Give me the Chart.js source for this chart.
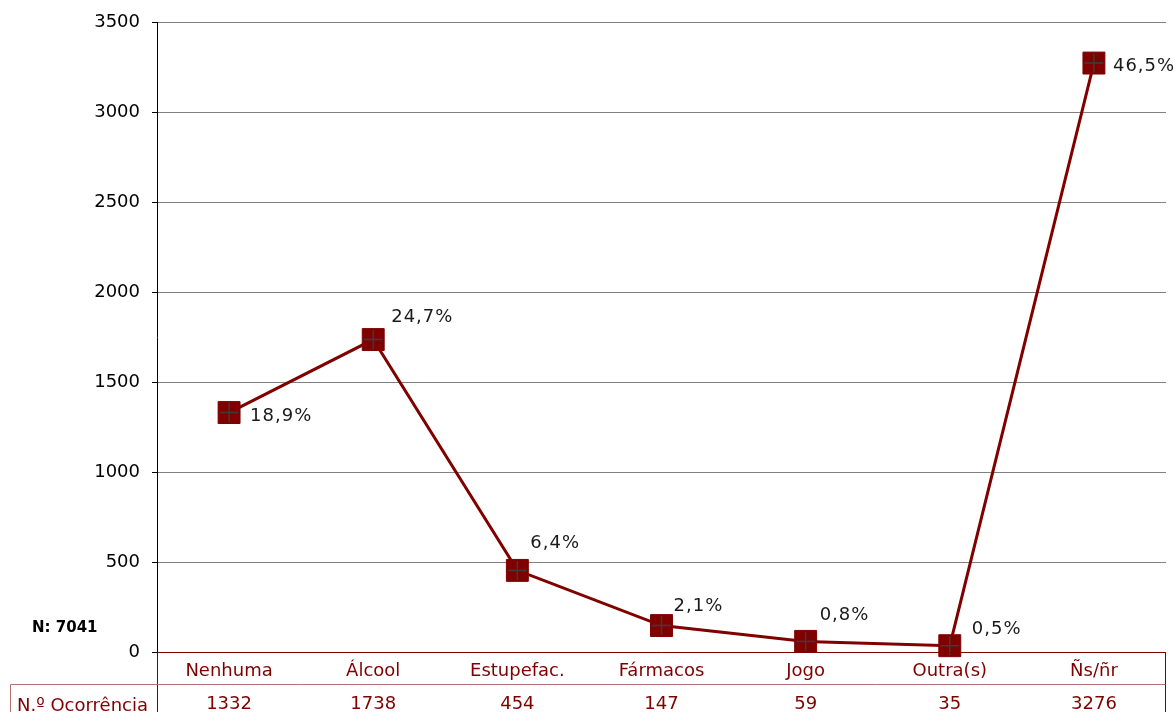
<!DOCTYPE html>
<html>
<head>
<meta charset="utf-8">
<script src="https://cdn.jsdelivr.net/npm/chart.js@4.4.1/dist/chart.umd.min.js"></script>
<style>
  html, body { margin: 0; padding: 0; background: #ffffff; overflow: hidden; }
  #wrap { width: 1176px; height: 712px; }
</style>
</head>
<body>
<div id="wrap"><canvas id="c" width="1176" height="712"></canvas></div>
<script>
// ---- data ----
const categories = ['Nenhuma', 'Álcool', 'Estupefac.', 'Fármacos', 'Jogo', 'Outra(s)', 'Ñs/ñr'];
const occurrences = [1332, 1738, 454, 147, 59, 35, 3276];
const percentLabels = ['18,9%', '24,7%', '6,4%', '2,1%', '0,8%', '0,5%', '46,5%'];
const yMin = 0;
const yMax = 3500;
const yStep = 500;
const rowTitle = 'N.º Ocorrência';
const totalLabel = 'N: 7041';

// ---- styling ----
const DARK_RED = '#800000';
const LIGHT_RED = '#b57070';
const FONT = '"DejaVu Sans", Verdana, sans-serif';
// label offsets (dx from point centre to text left, dy from point centre to baseline)
const labelOffsets = [[21, 8], [18, -18], [13, -22], [12, -15], [14, -21], [22, -12], [19, 8]];

const tablePlugin = {
  id: 'tablePlugin',
  afterDraw(chart) {
    const ctx = chart.ctx;
    const ca = chart.chartArea;
    const xs = chart.scales.x;
    const ys = chart.scales.y;
    const y0 = Math.round(ys.getPixelForValue(0)) + 0.5;
    const left = Math.round(ca.left) + 0.5;
    const right = Math.round(ca.right) - 0.5;
    const H = chart.height;
    const rowSep = y0 + 32;

    ctx.save();
    // percent labels
    const meta = chart.getDatasetMeta(0);
    ctx.font = '18px ' + FONT;
    ctx.fillStyle = '#1a1a1a';
    ctx.textAlign = 'left';
    ctx.textBaseline = 'alphabetic';
    try { ctx.letterSpacing = '1px'; } catch (e) {}
    meta.data.forEach((pt, i) => {
      const off = labelOffsets[i];
      ctx.fillText(percentLabels[i], pt.x + off[0], pt.y + off[1]);
    });
    try { ctx.letterSpacing = '0px'; } catch (e) {}

    // table lines
    ctx.lineWidth = 1;
    ctx.strokeStyle = DARK_RED;
    ctx.beginPath();
    ctx.moveTo(left, y0); ctx.lineTo(right, y0);
    ctx.moveTo(left, y0); ctx.lineTo(left, H);
    ctx.moveTo(right, y0); ctx.lineTo(right, H);
    ctx.stroke();
    ctx.strokeStyle = LIGHT_RED;
    ctx.beginPath();
    ctx.moveTo(10.5, rowSep); ctx.lineTo(right, rowSep);
    ctx.moveTo(10.5, rowSep); ctx.lineTo(10.5, H);
    ctx.stroke();

    // category labels and values
    ctx.fillStyle = DARK_RED;
    ctx.font = '18px ' + FONT;
    ctx.textAlign = 'center';
    categories.forEach((c, i) => {
      const x = xs.getPixelForValue(i);
      ctx.fillText(c, x, y0 + 23);
      ctx.fillText(String(occurrences[i]), x, y0 + 56);
    });
    ctx.textAlign = 'left';
    ctx.fillText(rowTitle, 17, y0 + 58);

    // total
    ctx.fillStyle = '#000000';
    ctx.font = 'bold 15px ' + FONT;
    ctx.fillText(totalLabel, 32, 632);
    ctx.restore();
  }
};

new Chart(document.getElementById('c'), {
  type: 'line',
  data: {
    labels: categories,
    datasets: [
      {
        data: occurrences,
        order: 2,
        borderColor: DARK_RED,
        borderWidth: 3,
        backgroundColor: DARK_RED,
        pointStyle: 'rect',
        pointRadius: 15.5,
        pointBorderWidth: 1,
        pointBorderColor: DARK_RED,
        pointBackgroundColor: DARK_RED,
        tension: 0,
        clip: false
      },
      {
        data: occurrences,
        order: 1,
        showLine: false,
        pointStyle: 'cross',
        pointRadius: 9.5,
        pointBorderWidth: 1.5,
        pointBorderColor: '#3c3c3c',
        pointBackgroundColor: '#3c3c3c',
        clip: false
      }
    ]
  },
  options: {
    responsive: false,
    animation: false,
    devicePixelRatio: 1,
    layout: { autoPadding: false, padding: { top: 22, right: 10, left: 0, bottom: 0 } },
    plugins: { legend: { display: false }, tooltip: { enabled: false } },
    scales: {
      x: {
        type: 'category',
        offset: true,
        ticks: { display: false },
        grid: { display: false, drawTicks: false },
        border: { display: false },
        afterFit(scale) { scale.height = 60; }
      },
      y: {
        min: yMin,
        max: yMax,
        ticks: {
          stepSize: yStep,
          color: '#000000',
          font: { family: FONT, size: 18 },
          padding: 12,
          callback: (v) => String(v)
        },
        grid: {
          color: '#808080',
          lineWidth: 1,
          tickLength: 5,
          tickColor: '#000000'
        },
        border: { display: true, color: '#000000', width: 1 },
        afterFit(scale) { scale.width = 157; }
      }
    }
  },
  plugins: [tablePlugin]
});
</script>
</body>
</html>
